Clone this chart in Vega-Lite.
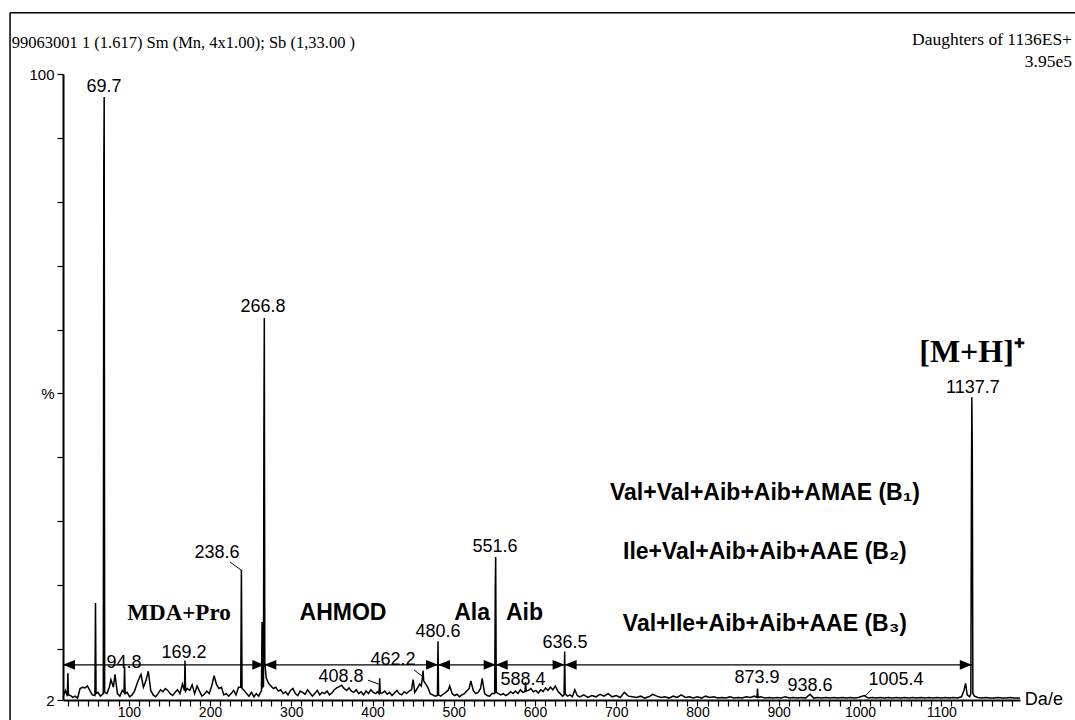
{
  "$schema": "https://vega.github.io/schema/vega-lite/v6.json",
  "width": 957,
  "height": 626,
  "autosize": {"type": "none"},
  "padding": {"left": 63, "top": 74, "right": 55, "bottom": 20},
  "background": "white",
  "config": {"view": {"stroke": null}, "font": "Liberation Sans"},
  "resolve": {"axis": {"x": "independent", "y": "independent"}},
  "datasets": {
    "spectrum": [
      {"mz":19,"i":2.5},{"mz":22,"i":3.5},{"mz":24.3,"i":2.6},{"mz":25,"i":6.2},{"mz":25.7,"i":2.8},{"mz":28,"i":2.7},{"mz":31,"i":2.4},{"mz":34,"i":2.6},{"mz":37,"i":2.3},{"mz":40,"i":3.8},{"mz":43,"i":4.0},{"mz":46,"i":3.9},{"mz":49,"i":4.2},{"mz":52,"i":3.5},{"mz":55,"i":2.8},{"mz":58.3,"i":2.7},{"mz":59,"i":17.2},{"mz":59.7,"i":3.0},{"mz":62,"i":3.2},{"mz":65,"i":2.6},{"mz":68.6,"i":3.0},{"mz":69.2,"i":85},{"mz":69.7,"i":96.4},{"mz":70.3,"i":3.2},{"mz":73,"i":3.0},{"mz":76,"i":4.0},{"mz":78,"i":5.2},{"mz":81,"i":4.0},{"mz":83,"i":6.0},{"mz":86,"i":3.0},{"mz":89,"i":2.6},{"mz":92,"i":3.5},{"mz":94.1,"i":3.2},{"mz":94.8,"i":7.2},{"mz":95.5,"i":3.0},{"mz":98,"i":3.2},
      {"mz":101,"i":2.5},{"mz":104,"i":2.8},{"mz":107,"i":3.4},{"mz":110,"i":4.5},{"mz":112,"i":5.2},{"mz":115,"i":6.0},{"mz":118,"i":4.0},{"mz":121,"i":5.0},{"mz":124,"i":6.5},{"mz":127,"i":3.5},{"mz":130,"i":2.8},{"mz":133,"i":2.5},{"mz":136,"i":3.0},{"mz":139,"i":3.6},{"mz":142,"i":3.3},{"mz":145,"i":3.8},{"mz":148,"i":3.5},{"mz":151,"i":3.0},{"mz":154,"i":2.7},{"mz":157,"i":3.2},{"mz":160,"i":3.6},{"mz":163,"i":3.0},{"mz":166,"i":4.5},{"mz":168.5,"i":3.5},{"mz":169.2,"i":8.2},{"mz":169.9,"i":3.4},{"mz":172,"i":3.8},{"mz":175,"i":3.5},{"mz":178,"i":4.4},{"mz":181,"i":3.0},{"mz":184,"i":4.2},{"mz":187,"i":3.4},{"mz":190,"i":2.6},{"mz":193,"i":2.9},{"mz":196,"i":3.4},{"mz":199,"i":3.0},
      {"mz":202,"i":4.2},{"mz":205,"i":5.8},{"mz":208,"i":4.4},{"mz":211,"i":3.8},{"mz":214,"i":4.0},{"mz":217,"i":2.8},{"mz":220,"i":3.0},{"mz":223,"i":2.6},{"mz":226,"i":3.0},{"mz":229,"i":3.5},{"mz":232,"i":2.8},{"mz":235,"i":4.0},{"mz":237.8,"i":4.0},{"mz":238.6,"i":22.4},{"mz":239.4,"i":3.8},{"mz":242,"i":3.5},{"mz":245,"i":3.0},{"mz":248,"i":2.6},{"mz":251,"i":3.2},{"mz":254,"i":2.5},{"mz":257,"i":3.0},{"mz":260,"i":2.6},{"mz":262,"i":3.2},{"mz":263.3,"i":3.4},{"mz":264,"i":14.2},{"mz":264.7,"i":4.0},{"mz":265.8,"i":4.2},{"mz":266.3,"i":45},{"mz":266.8,"i":61.8},{"mz":267.4,"i":8.0},{"mz":269,"i":5.5},{"mz":272,"i":4.6},{"mz":275,"i":4.2},{"mz":278,"i":3.8},{"mz":281,"i":4.0},{"mz":284,"i":3.4},{"mz":287,"i":3.6},{"mz":290,"i":3.0},{"mz":293,"i":3.3},{"mz":296,"i":2.8},{"mz":299,"i":3.5},
      {"mz":302,"i":3.8},{"mz":305,"i":3.0},{"mz":308,"i":2.7},{"mz":311,"i":3.4},{"mz":314,"i":3.2},{"mz":317,"i":2.9},{"mz":320,"i":3.6},{"mz":323,"i":3.1},{"mz":326,"i":2.6},{"mz":329,"i":3.0},{"mz":332,"i":3.5},{"mz":335,"i":2.8},{"mz":338,"i":3.2},{"mz":341,"i":3.0},{"mz":344,"i":3.4},{"mz":347,"i":2.8},{"mz":350,"i":3.1},{"mz":353,"i":3.6},{"mz":356,"i":3.9},{"mz":359,"i":4.1},{"mz":362,"i":4.3},{"mz":365,"i":3.8},{"mz":368,"i":3.5},{"mz":371,"i":3.9},{"mz":374,"i":3.4},{"mz":377,"i":3.2},{"mz":380,"i":3.6},{"mz":383,"i":3.0},{"mz":386,"i":3.3},{"mz":389,"i":2.8},{"mz":392,"i":3.4},{"mz":395,"i":3.0},{"mz":398,"i":3.6},
      {"mz":401,"i":3.2},{"mz":404,"i":3.0},{"mz":406,"i":3.3},{"mz":408.1,"i":3.0},{"mz":408.8,"i":5.4},{"mz":409.5,"i":3.1},{"mz":412,"i":3.1},{"mz":415,"i":3.4},{"mz":418,"i":2.9},{"mz":421,"i":3.2},{"mz":424,"i":2.7},{"mz":427,"i":3.1},{"mz":430,"i":3.5},{"mz":433,"i":3.0},{"mz":436,"i":2.8},{"mz":439,"i":3.3},{"mz":442,"i":3.0},{"mz":445,"i":3.4},{"mz":448,"i":3.6},{"mz":450,"i":5.2},{"mz":452,"i":3.2},{"mz":455,"i":3.8},{"mz":458,"i":4.5},{"mz":460,"i":4.2},{"mz":461.5,"i":5.6},{"mz":462.2,"i":6.6},{"mz":463,"i":5.0},{"mz":465,"i":4.6},{"mz":468,"i":4.0},{"mz":471,"i":3.0},{"mz":474,"i":2.8},{"mz":477,"i":2.6},{"mz":479.9,"i":2.7},{"mz":480.6,"i":11.2},{"mz":481.3,"i":2.8},{"mz":484,"i":2.6},{"mz":487,"i":2.9},{"mz":490,"i":3.2},{"mz":493,"i":3.5},{"mz":495,"i":4.2},{"mz":498,"i":3.0},
      {"mz":501,"i":2.7},{"mz":504,"i":2.9},{"mz":507,"i":2.5},{"mz":510,"i":2.8},{"mz":513,"i":3.0},{"mz":516,"i":3.4},{"mz":519,"i":3.8},{"mz":521,"i":5.0},{"mz":524,"i":3.5},{"mz":527,"i":3.0},{"mz":530,"i":3.2},{"mz":533,"i":3.8},{"mz":535,"i":5.4},{"mz":538,"i":3.0},{"mz":541,"i":2.7},{"mz":544,"i":2.6},{"mz":547,"i":3.0},{"mz":550.4,"i":3.0},{"mz":551.1,"i":19.5},{"mz":551.6,"i":24.4},{"mz":552.3,"i":3.2},{"mz":555,"i":3.0},{"mz":558,"i":2.8},{"mz":561,"i":3.0},{"mz":564,"i":2.7},{"mz":567,"i":2.9},{"mz":570,"i":3.3},{"mz":573,"i":3.0},{"mz":576,"i":3.4},{"mz":579,"i":3.0},{"mz":582,"i":3.6},{"mz":585,"i":3.2},{"mz":587.7,"i":3.3},{"mz":588.4,"i":4.8},{"mz":589.1,"i":3.4},{"mz":592,"i":3.5},{"mz":595,"i":3.8},{"mz":598,"i":3.3},
      {"mz":601,"i":3.5},{"mz":604,"i":3.1},{"mz":607,"i":3.6},{"mz":610,"i":3.3},{"mz":613,"i":3.9},{"mz":616,"i":3.5},{"mz":619,"i":4.0},{"mz":622,"i":3.6},{"mz":625,"i":4.2},{"mz":628,"i":3.4},{"mz":631,"i":3.0},{"mz":634,"i":2.6},{"mz":635.8,"i":2.8},{"mz":636.5,"i":9.6},{"mz":637.2,"i":3.0},{"mz":640,"i":2.6},{"mz":643,"i":2.8},{"mz":646,"i":2.5},{"mz":649,"i":3.6},{"mz":652,"i":2.7},{"mz":655,"i":2.5},{"mz":660,"i":2.8},{"mz":665,"i":2.4},{"mz":670,"i":2.7},{"mz":675,"i":2.5},{"mz":680,"i":2.9},{"mz":685,"i":2.6},{"mz":690,"i":3.0},{"mz":695,"i":2.5},
      {"mz":700,"i":2.7},{"mz":705,"i":2.4},{"mz":710,"i":3.2},{"mz":715,"i":2.6},{"mz":720,"i":2.5},{"mz":725,"i":2.4},{"mz":730,"i":2.6},{"mz":735,"i":2.3},{"mz":740,"i":2.5},{"mz":745,"i":2.9},{"mz":750,"i":2.6},{"mz":755,"i":2.4},{"mz":760,"i":2.5},{"mz":765,"i":2.3},{"mz":770,"i":2.6},{"mz":775,"i":2.4},{"mz":780,"i":2.8},{"mz":785,"i":2.4},{"mz":790,"i":2.5},{"mz":795,"i":2.3},
      {"mz":800,"i":2.5},{"mz":805,"i":2.3},{"mz":810,"i":2.6},{"mz":815,"i":2.4},{"mz":820,"i":2.5},{"mz":825,"i":2.3},{"mz":830,"i":2.4},{"mz":835,"i":2.3},{"mz":840,"i":2.5},{"mz":845,"i":2.3},{"mz":850,"i":2.4},{"mz":855,"i":2.3},{"mz":860,"i":2.5},{"mz":865,"i":2.4},{"mz":870,"i":2.6},{"mz":873.2,"i":2.4},{"mz":873.9,"i":3.8},{"mz":874.6,"i":2.4},{"mz":878,"i":2.5},{"mz":883,"i":2.3},{"mz":888,"i":2.4},{"mz":893,"i":2.3},{"mz":898,"i":2.4},
      {"mz":903,"i":2.3},{"mz":908,"i":2.5},{"mz":913,"i":2.3},{"mz":918,"i":2.4},{"mz":923,"i":2.3},{"mz":928,"i":2.4},{"mz":933,"i":2.3},{"mz":938.6,"i":2.9},{"mz":943,"i":2.3},{"mz":948,"i":2.4},{"mz":953,"i":2.3},{"mz":958,"i":2.4},{"mz":963,"i":2.3},{"mz":968,"i":2.4},{"mz":973,"i":2.3},{"mz":978,"i":2.4},{"mz":983,"i":2.3},{"mz":988,"i":2.4},{"mz":993,"i":2.3},{"mz":998,"i":2.4},
      {"mz":1005.4,"i":2.7},{"mz":1010,"i":2.3},{"mz":1015,"i":2.4},{"mz":1020,"i":2.3},{"mz":1025,"i":2.4},{"mz":1030,"i":2.3},{"mz":1035,"i":2.4},{"mz":1040,"i":2.3},{"mz":1045,"i":2.4},{"mz":1050,"i":2.3},{"mz":1055,"i":2.4},{"mz":1060,"i":2.3},{"mz":1065,"i":2.4},{"mz":1070,"i":2.3},{"mz":1075,"i":2.4},{"mz":1080,"i":2.3},{"mz":1085,"i":2.4},{"mz":1090,"i":2.3},{"mz":1095,"i":2.4},
      {"mz":1100,"i":2.3},{"mz":1105,"i":2.4},{"mz":1110,"i":2.3},{"mz":1115,"i":2.4},{"mz":1120,"i":2.3},{"mz":1125,"i":2.5},{"mz":1128,"i":3.5},{"mz":1130,"i":4.6},{"mz":1132,"i":2.8},{"mz":1135,"i":2.5},{"mz":1136.5,"i":3.0},{"mz":1137.2,"i":35},{"mz":1137.7,"i":49.4},{"mz":1138.3,"i":40},{"mz":1139,"i":3.0},{"mz":1141,"i":2.6},{"mz":1145,"i":2.4},{"mz":1150,"i":2.3},{"mz":1155,"i":2.4},{"mz":1160,"i":2.3},{"mz":1165,"i":2.3},{"mz":1170,"i":2.4},{"mz":1175,"i":2.3},{"mz":1180,"i":2.3},{"mz":1185,"i":2.4},{"mz":1190,"i":2.3},{"mz":1197,"i":2.3}
    ],
    "arrows": [
      {"from": 19, "to": 266.8},
      {"from": 266.8, "to": 480.6},
      {"from": 480.6, "to": 551.6},
      {"from": 551.6, "to": 636.5},
      {"from": 636.5, "to": 1137.7}
    ],
    "leaders": [
      {"m1": 224.6, "p1": 23.6, "m2": 238.1, "p2": 22.35},
      {"m1": 394.4, "p1": 5.1, "m2": 407.5, "p2": 4.5},
      {"m1": 451.1, "p1": 6.7, "m2": 461.5, "p2": 5.7},
      {"m1": 1014.8, "p1": 3.7, "m2": 1006.2, "p2": 2.6}
    ],
    "notes": [
      {"t": "69.7", "mz": 69.5, "pct": 98.0, "kind": "peak"},
      {"t": "94.8", "mz": 94.1, "pct": 7.8, "kind": "peak"},
      {"t": "169.2", "mz": 168.0, "pct": 9.4, "kind": "peak"},
      {"t": "238.6", "mz": 208.6, "pct": 25.0, "kind": "peak"},
      {"t": "266.8", "mz": 265.2, "pct": 63.5, "kind": "peak"},
      {"t": "408.8", "mz": 361.2, "pct": 5.6, "kind": "peak"},
      {"t": "462.2", "mz": 425.2, "pct": 8.3, "kind": "peak"},
      {"t": "480.6", "mz": 480.6, "pct": 12.6, "kind": "peak"},
      {"t": "551.6", "mz": 550.8, "pct": 26.0, "kind": "peak"},
      {"t": "588.4", "mz": 585.2, "pct": 5.1, "kind": "peak"},
      {"t": "636.5", "mz": 636.9, "pct": 10.9, "kind": "peak"},
      {"t": "873.9", "mz": 873.3, "pct": 5.4, "kind": "peak"},
      {"t": "938.6", "mz": 938.5, "pct": 4.2, "kind": "peak"},
      {"t": "1005.4", "mz": 1044.3, "pct": 5.1, "kind": "peak"},
      {"t": "1137.7", "mz": 1139.1, "pct": 50.8, "kind": "peak"},
      {"t": "AHMOD", "mz": 363.7, "pct": 15.6, "kind": "region"},
      {"t": "Ala", "mz": 522.5, "pct": 15.6, "kind": "region"},
      {"t": "Aib", "mz": 587.1, "pct": 15.6, "kind": "region"},
      {"t": "Val+Val+Aib+Aib+AMAE (B₁)", "mz": 883, "pct": 34.4, "kind": "region"},
      {"t": "Ile+Val+Aib+Aib+AAE (B₂)", "mz": 883, "pct": 25.2, "kind": "region"},
      {"t": "Val+Ile+Aib+Aib+AAE (B₃)", "mz": 883, "pct": 13.9, "kind": "region"},
      {"t": "MDA+Pro", "mz": 161.8, "pct": 15.6, "kind": "serif"},
      {"t": "[M+H]⁺", "mz": 1138, "pct": 56.5, "kind": "ion"}
    ],
    "one": [{}]
  },
  "layer": [
    {
      "data": {"name": "spectrum"},
      "mark": {"type": "line", "color": "black", "strokeWidth": 1.5, "interpolate": "linear"},
      "encoding": {
        "x": {
          "field": "mz", "type": "quantitative",
          "scale": {"domain": [19, 1197], "nice": false, "zero": false},
          "axis": {
            "title": null, "grid": false,
            "values": [25,37.5,50,62.5,75,87.5,100,112.5,125,137.5,150,162.5,175,187.5,200,212.5,225,237.5,250,262.5,275,287.5,300,312.5,325,337.5,350,362.5,375,387.5,400,412.5,425,437.5,450,462.5,475,487.5,500,512.5,525,537.5,550,562.5,575,587.5,600,612.5,625,637.5,650,662.5,675,687.5,700,712.5,725,737.5,750,762.5,775,787.5,800,812.5,825,837.5,850,862.5,875,887.5,900,912.5,925,937.5,950,962.5,975,987.5,1000,1012.5,1025,1037.5,1050,1062.5,1075,1087.5,1100,1112.5,1125,1137.5,1150,1162.5,1175,1187.5],
            "tickSize": 6,
            "encode": {"ticks": {"update": {"y2": {"signal": "datum.value % 100 === 0 ? 7 : 4"}}}},
            "labelExpr": "datum.value % 100 === 0 ? format(datum.value, 'd') : ''",
            "labelOverlap": false, "labelFlush": false, "labelBound": false,
            "domainColor": "black", "domainWidth": 2,
            "tickColor": "black", "tickWidth": 1.2,
            "labelColor": "black", "labelFont": "Liberation Sans", "labelFontSize": 14, "labelPadding": -1
          }
        },
        "y": {
          "field": "i", "type": "quantitative",
          "scale": {"domain": [2, 100], "nice": false, "zero": false},
          "axis": {
            "title": null, "grid": false,
            "values": [2,10,20,30,40,50,60,70,80,90,100],
            "labelExpr": "datum.value === 100 ? '100' : datum.value === 50 ? '%' : datum.value === 2 ? '2' : ''",
            "labelOverlap": false, "labelFlush": false,
            "tickSize": 6, "tickColor": "black", "tickWidth": 1.2,
            "domainColor": "black", "domainWidth": 2,
            "labelColor": "black", "labelFont": "Liberation Sans", "labelFontSize": 15, "labelPadding": 3
          }
        }
      }
    },
    {
      "data": {"name": "arrows"},
      "mark": {"type": "rule", "color": "black", "strokeWidth": 1.3},
      "encoding": {
        "x": {"field": "from", "type": "quantitative", "axis": null},
        "x2": {"field": "to"},
        "y": {"datum": 7.5, "type": "quantitative", "axis": null}
      }
    },
    {
      "data": {"name": "arrows"},
      "mark": {"type": "point", "shape": "M0,0L1,-0.4L1,0.4Z", "filled": true, "color": "black", "opacity": 1, "size": 576, "strokeWidth": 0},
      "encoding": {
        "x": {"field": "from", "type": "quantitative", "axis": null},
        "y": {"datum": 7.5, "type": "quantitative", "axis": null}
      }
    },
    {
      "data": {"name": "arrows"},
      "mark": {"type": "point", "shape": "M0,0L-1,-0.4L-1,0.4Z", "filled": true, "color": "black", "opacity": 1, "size": 576, "strokeWidth": 0},
      "encoding": {
        "x": {"field": "to", "type": "quantitative", "axis": null},
        "y": {"datum": 7.5, "type": "quantitative", "axis": null}
      }
    },
    {
      "data": {"name": "leaders"},
      "mark": {"type": "rule", "color": "black", "strokeWidth": 1},
      "encoding": {
        "x": {"field": "m1", "type": "quantitative", "axis": null},
        "y": {"field": "p1", "type": "quantitative", "axis": null},
        "x2": {"field": "m2"},
        "y2": {"field": "p2"}
      }
    },
    {
      "data": {"name": "notes"},
      "transform": [{"filter": "datum.kind === 'peak'"}],
      "mark": {"type": "text", "font": "Liberation Sans", "fontSize": 18, "align": "center", "baseline": "middle", "color": "black"},
      "encoding": {
        "x": {"field": "mz", "type": "quantitative", "axis": null},
        "y": {"field": "pct", "type": "quantitative", "axis": null},
        "text": {"field": "t"}
      }
    },
    {
      "data": {"name": "notes"},
      "transform": [{"filter": "datum.kind === 'region'"}],
      "mark": {"type": "text", "font": "Liberation Sans", "fontSize": 23, "fontWeight": "bold", "align": "center", "baseline": "middle", "color": "black"},
      "encoding": {
        "x": {"field": "mz", "type": "quantitative", "axis": null},
        "y": {"field": "pct", "type": "quantitative", "axis": null},
        "text": {"field": "t"}
      }
    },
    {
      "data": {"name": "notes"},
      "transform": [{"filter": "datum.kind === 'serif'"}],
      "mark": {"type": "text", "font": "Liberation Serif", "fontSize": 23, "fontWeight": "bold", "align": "center", "baseline": "middle", "color": "black"},
      "encoding": {
        "x": {"field": "mz", "type": "quantitative", "axis": null},
        "y": {"field": "pct", "type": "quantitative", "axis": null},
        "text": {"field": "t"}
      }
    },
    {
      "data": {"name": "notes"},
      "transform": [{"filter": "datum.kind === 'ion'"}],
      "mark": {"type": "text", "font": "Liberation Serif", "fontSize": 32, "fontWeight": "bold", "align": "center", "baseline": "middle", "color": "black"},
      "encoding": {
        "x": {"field": "mz", "type": "quantitative", "axis": null},
        "y": {"field": "pct", "type": "quantitative", "axis": null},
        "text": {"field": "t"}
      }
    },
    {
      "data": {"name": "one"},
      "mark": {"type": "text", "font": "Liberation Serif", "fontSize": 16.5, "align": "left", "baseline": "middle", "color": "black"},
      "encoding": {
        "x": {"datum": -44, "type": "quantitative", "axis": null},
        "y": {"datum": 104.85, "type": "quantitative", "axis": null},
        "text": {"value": "99063001  1 (1.617) Sm (Mn, 4x1.00); Sb (1,33.00 )"}
      }
    },
    {
      "data": {"name": "one"},
      "mark": {"type": "text", "font": "Liberation Serif", "fontSize": 17.5, "align": "right", "baseline": "middle", "color": "black"},
      "encoding": {
        "x": {"datum": 1261, "type": "quantitative", "axis": null},
        "y": {"datum": 105.3, "type": "quantitative", "axis": null},
        "text": {"value": "Daughters of 1136ES+"}
      }
    },
    {
      "data": {"name": "one"},
      "mark": {"type": "text", "font": "Liberation Serif", "fontSize": 17.5, "align": "right", "baseline": "middle", "color": "black"},
      "encoding": {
        "x": {"datum": 1261, "type": "quantitative", "axis": null},
        "y": {"datum": 101.9, "type": "quantitative", "axis": null},
        "text": {"value": "3.95e5"}
      }
    },
    {
      "data": {"name": "one"},
      "mark": {"type": "text", "font": "Liberation Sans", "fontSize": 18, "align": "left", "baseline": "middle", "color": "black"},
      "encoding": {
        "x": {"datum": 1203, "type": "quantitative", "axis": null},
        "y": {"datum": 2, "type": "quantitative", "axis": null},
        "text": {"value": "Da/e"}
      }
    },
    {
      "data": {"name": "one"},
      "mark": {"type": "rule", "color": "black", "strokeWidth": 1.5},
      "encoding": {
        "x": {"datum": -46.2, "type": "quantitative", "axis": null},
        "x2": {"datum": 1265},
        "y": {"datum": 109.6, "type": "quantitative", "axis": null}
      }
    },
    {
      "data": {"name": "one"},
      "mark": {"type": "rule", "color": "black", "strokeWidth": 1.5},
      "encoding": {
        "x": {"datum": -46.2, "type": "quantitative", "axis": null},
        "y": {"datum": 109.6, "type": "quantitative", "axis": null},
        "y2": {"datum": -2.5}
      }
    }
  ]
}
